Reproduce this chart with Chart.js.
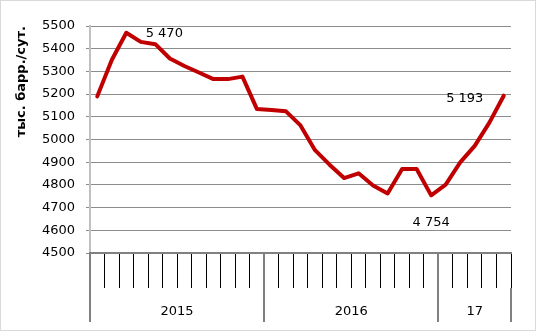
<!DOCTYPE html>
<html lang="ru">
  <head>
    <meta charset="UTF-8" />
    <title>Добыча, тыс. барр./сут.</title>
    <script src="https://cdn.jsdelivr.net/npm/chart.js"></script>
    <style>
      body {
        margin: 0;
        background: #fff;
      }
      #wrap {
        width: 537px;
        height: 333px;
      }
    </style>
  </head>
  <body>
    <div id="wrap"><canvas id="chart" width="537" height="333"></canvas></div>

    <script>
      // годы и число месяцев в каждом
      const years = ["2015", "2016", "17"];
      const yearMonths = [12, 12, 5];

      // помесячные значения, тыс. барр./сут.
      const values2015 = [5190, 5350, 5470, 5430, 5420, 5357, 5324, 5295, 5266, 5266, 5277, 5134];
      const values2016 = [5130, 5124, 5062, 4953, 4889, 4830, 4851, 4797, 4762, 4870, 4870, 4754];
      const values2017 = [4801, 4899, 4972, 5073, 5193];

      const yTicks = { min: 4500, max: 5500, step: 100 };

      // подписи у отдельных точек
      const pointLabels = [
        { index: 2, text: "5 470" },
        { index: 23, text: "4 754" },
        { index: 28, text: "5 193" },
      ];

      const values = values2015.concat(values2016, values2017);
      const months = [];
      years.forEach((y, k) => {
        for (let m = 1; m <= yearMonths[k]; m++) months.push(y + "-" + m);
      });

      // границы годов и середины для подписей (в месяцах)
      const yearEdges = [0];
      const yearMids = [];
      yearMonths.forEach((n) => {
        const start = yearEdges[yearEdges.length - 1];
        yearMids.push(start + n / 2);
        yearEdges.push(start + n);
      });

      const FONT = "'DejaVu Sans', sans-serif";

      const frame = {
        id: "frame",
        beforeDraw(chart) {
          const ctx = chart.ctx;
          ctx.save();
          ctx.fillStyle = "#fff";
          ctx.fillRect(0, 0, chart.width, chart.height);
          ctx.strokeStyle = "#d9d9d9";
          ctx.lineWidth = 1;
          ctx.strokeRect(0.5, 0.5, 535, 330);
          ctx.restore();
        },
      };

      const valueLabels = {
        id: "valueLabels",
        afterDatasetsDraw(chart) {
          const ctx = chart.ctx;
          const pts = chart.getDatasetMeta(0).data;
          const shift = { 2: [38, 1], 23: [0, 27], 28: [-39, 3] };
          ctx.save();
          ctx.font = "13px " + FONT;
          ctx.fillStyle = "#000";
          ctx.textAlign = "center";
          ctx.textBaseline = "middle";
          pointLabels.forEach((p) => {
            const pt = pts[p.index];
            const d = shift[p.index] || [0, -14];
            ctx.fillText(p.text, pt.x + d[0], pt.y + d[1]);
          });
          ctx.restore();
        },
      };

      new Chart(document.getElementById("chart"), {
        type: "line",
        data: {
          labels: months,
          datasets: [
            {
              data: values,
              borderColor: "#c00000",
              borderWidth: 4,
              borderJoinStyle: "round",
              borderCapStyle: "round",
              pointRadius: 0,
              tension: 0,
              fill: false,
            },
          ],
        },
        options: {
          responsive: false,
          animation: false,
          layout: { padding: { left: 0, right: 26, top: 26, bottom: 0 } },
          plugins: {
            legend: { display: false },
            tooltip: { enabled: false },
          },
          scales: {
            y: {
              min: yTicks.min,
              max: yTicks.max,
              afterFit: (s) => {
                s.width = 90;
              },
              ticks: {
                stepSize: yTicks.step,
                padding: 11,
                color: "#000",
                font: { family: FONT, size: 13 },
                callback: (v) => String(v),
              },
              grid: { color: "#8c8c8c", lineWidth: 1, tickLength: 4 },
              border: { color: "#c0c0c0", width: 2 },
              title: {
                display: true,
                text: "тыс. барр./сут.",
                align: "end",
                color: "#000",
                font: { family: FONT, size: 13, weight: "bold" },
                padding: { top: 14, bottom: 0 },
              },
            },
            x: {
              type: "category",
              offset: true,
              afterFit: (s) => {
                s.height = 35;
              },
              ticks: { display: false },
              grid: {
                offset: true,
                drawOnChartArea: false,
                tickLength: 35,
                color: (c) => (yearEdges.includes(c.index) ? "#808080" : "#000"),
                lineWidth: (c) => (yearEdges.includes(c.index) ? 2 : 1),
              },
              border: { color: "#808080", width: 2 },
            },
            x2: {
              type: "linear",
              position: "bottom",
              min: 0,
              max: values.length,
              afterFit: (s) => {
                s.height = 45;
              },
              afterBuildTicks: (s) => {
                s.ticks = yearEdges
                  .concat(yearMids)
                  .sort((a, b) => a - b)
                  .map((v) => ({ value: v }));
              },
              ticks: {
                autoSkip: false,
                maxRotation: 0,
                padding: -18,
                color: "#000",
                font: { family: FONT, size: 13 },
                callback: (v) => {
                  const k = yearMids.indexOf(v);
                  return k >= 0 ? years[k] : "";
                },
              },
              grid: {
                drawOnChartArea: false,
                tickLength: 34,
                color: (c) =>
                  c.tick && yearEdges.includes(c.tick.value) ? "#808080" : "rgba(0,0,0,0)",
                lineWidth: 2,
              },
              border: { display: false },
            },
          },
        },
        plugins: [frame, valueLabels],
      });
    </script>
  </body>
</html>
